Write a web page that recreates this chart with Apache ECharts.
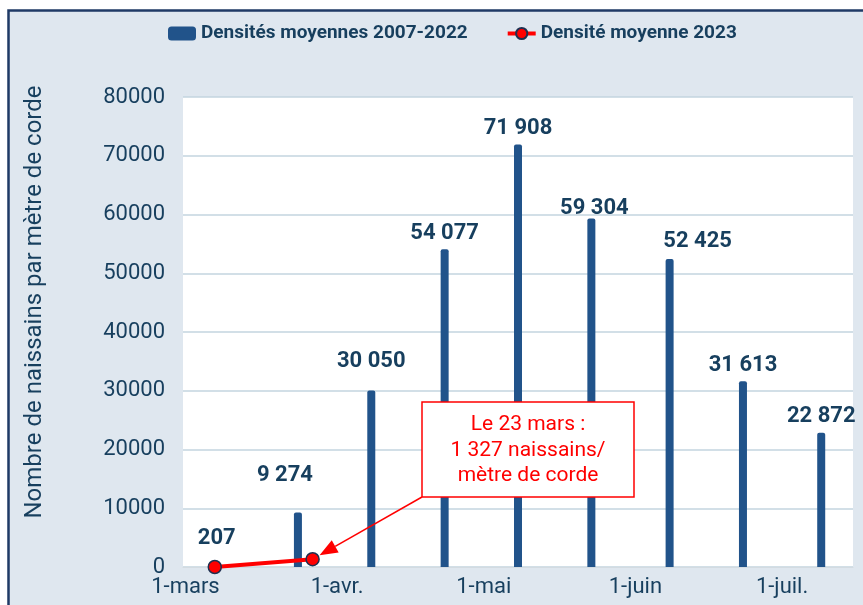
<!DOCTYPE html>
<html>
<head>
<meta charset="utf-8">
<script src="https://cdn.jsdelivr.net/npm/echarts@6/dist/echarts.min.js"></script>
<style>
html,body{margin:0;padding:0;background:#ffffff;}
#chart{width:863px;height:605px;}
</style>
</head>
<body>
<div id="chart"></div>
<script>
// ---- data ----
const monthNames = ['mars', 'avr.', 'mai', 'juin', 'juil.'];
const monthDays = [31, 30, 31, 30, 15];
const tickLabels = ['1-mars', '1-avr.', '1-mai', '1-juin', '1-juil.'];

const barDates = ['7-mars', '24-mars', '8-avr.', '23-avr.', '8-mai', '23-mai', '8-juin', '23-juin', '9-juil.'];
const barValues = [207, 9274, 30050, 54077, 71908, 59304, 52425, 31613, 22872];

const lineDates = ['7-mars', '27-mars'];
const lineValues = [0, 1327];

const seriesNames = ['Densités moyennes 2007-2022', 'Densité moyenne 2023'];
const yAxisName = 'Nombre de naissains par mètre de corde';
const noteLines = ['Le 23 mars :', '1 327 naissains/', 'mètre de corde'];

// ---- axis categories (one per day) ----
const days = [];
monthNames.forEach((m, i) => {
  for (let d = 1; d <= monthDays[i]; d++) days.push(d + '-' + m);
});

const fmt = v => String(v).replace(/\B(?=(\d{3})+(?!\d))/g, ' ');

const navy = '#173f5e';
const barColor = '#21538a';
const red = '#ff0000';

// label offsets (style only)
const labelShift = {0: [2, -11], 1: [-13, -21], 2: [0, -13], 5: [3, 6], 6: [28, -2]};

const chart = echarts.init(document.getElementById('chart'), null, {renderer: 'canvas'});

const option = {
  backgroundColor: '#ffffff',
  animation: false,
  textStyle: {fontFamily: 'Roboto'},
  grid: {
    left: 183, right: 10, top: 97, bottom: 38,
    show: true, backgroundColor: '#ffffff', borderWidth: 0
  },
  legend: {
    left: 163, top: 19,
    itemWidth: 28, itemHeight: 14, itemGap: 38,
    textStyle: {fontFamily: 'Roboto', fontWeight: 'bold', fontSize: 19, color: navy},
    data: [
      {name: seriesNames[0], icon: 'roundRect'},
      {name: seriesNames[1], lineStyle: {width: 4, color: red}}
    ]
  },
  xAxis: {
    type: 'category',
    data: days,
    boundaryGap: true,
    axisLine: {show: true, lineStyle: {color: '#d3dbe1', width: 1}},
    axisTick: {show: false},
    splitLine: {show: false},
    axisLabel: {
      interval: (idx, val) => tickLabels.indexOf(val) >= 0,
      formatter: v => v,
      fontSize: 22, color: navy, margin: 9, fontFamily: 'Roboto'
    }
  },
  yAxis: {
    type: 'value',
    min: 0, max: 80000, interval: 10000,
    name: yAxisName,
    nameLocation: 'middle',
    nameGap: 136,
    nameTextStyle: {fontSize: 24, color: navy, fontFamily: 'Roboto', padding: [0, 0, 0, 60]},
    axisLine: {show: false},
    axisTick: {show: false},
    splitLine: {show: true, lineStyle: {color: '#c3d4df', width: 1.5}},
    axisLabel: {fontSize: 22, color: navy, margin: 18, fontFamily: 'Roboto', formatter: v => String(v)}
  },
  series: [
    {
      name: seriesNames[0],
      type: 'bar',
      barWidth: 8,
      itemStyle: {color: barColor, borderRadius: [2, 2, 0, 0]},
      data: barDates.map((d, i) => {
        const item = {value: [d, barValues[i]]};
        if (labelShift[i]) item.label = {offset: labelShift[i]};
        return item;
      }),
      label: {
        show: true, position: 'top', distance: 5,
        fontSize: 22, fontWeight: 'bold', color: navy, fontFamily: 'Roboto',
        formatter: p => fmt(p.value[1])
      },
      z: 2
    },
    {
      name: seriesNames[1],
      type: 'line',
      data: lineDates.map((d, i) => [d, lineValues[i]]),
      lineStyle: {color: red, width: 4},
      itemStyle: {color: red, borderColor: '#1f2f4f', borderWidth: 1.5},
      symbol: 'circle',
      symbolSize: 13,
      showSymbol: true,
      showAllSymbol: true,
      z: 5
    }
  ]
};

chart.setOption(option);

// ---- frame + annotation ----
const tip = chart.convertToPixel({seriesIndex: 1}, [lineDates[1], lineValues[1]]);
const box = {x: 422, y: 402, w: 212, h: 95};
const corner = [box.x, box.y + box.h];
const dx = tip[0] - corner[0], dy = tip[1] - corner[1];
const len = Math.sqrt(dx * dx + dy * dy);
const ux = dx / len, uy = dy / len;
const end = [tip[0] - ux * 8, tip[1] - uy * 8];
const headLen = 18, headW = 7;
const base = [end[0] - ux * headLen, end[1] - uy * headLen];
const px = -uy, py = ux;

chart.setOption({
  graphic: [
    {
      type: 'rect', z: -10, silent: true,
      shape: {x: 8.5, y: 10.5, width: 900, height: 700},
      style: {fill: '#dfe7ef', stroke: '#1f3a66', lineWidth: 2.5}
    },
    {
      type: 'line', z: 100,
      shape: {x1: corner[0], y1: corner[1], x2: base[0], y2: base[1]},
      style: {stroke: red, lineWidth: 1.5}
    },
    {
      type: 'polygon', z: 100,
      shape: {points: [end, [base[0] + px * headW, base[1] + py * headW], [base[0] - px * headW, base[1] - py * headW]]},
      style: {fill: red}
    },
    {
      type: 'rect', z: 100,
      shape: {x: box.x, y: box.y, width: box.w, height: box.h},
      style: {fill: '#ffffff', stroke: red, lineWidth: 1.5}
    },
    {
      type: 'text', z: 101,
      x: box.x + box.w / 2, y: box.y + box.h / 2 + 1,
      style: {
        text: noteLines.join('\n'),
        fill: red, font: '21px Roboto', lineHeight: 25.5,
        align: 'center', verticalAlign: 'middle'
      }
    }
  ]
});
</script>
</body>
</html>
